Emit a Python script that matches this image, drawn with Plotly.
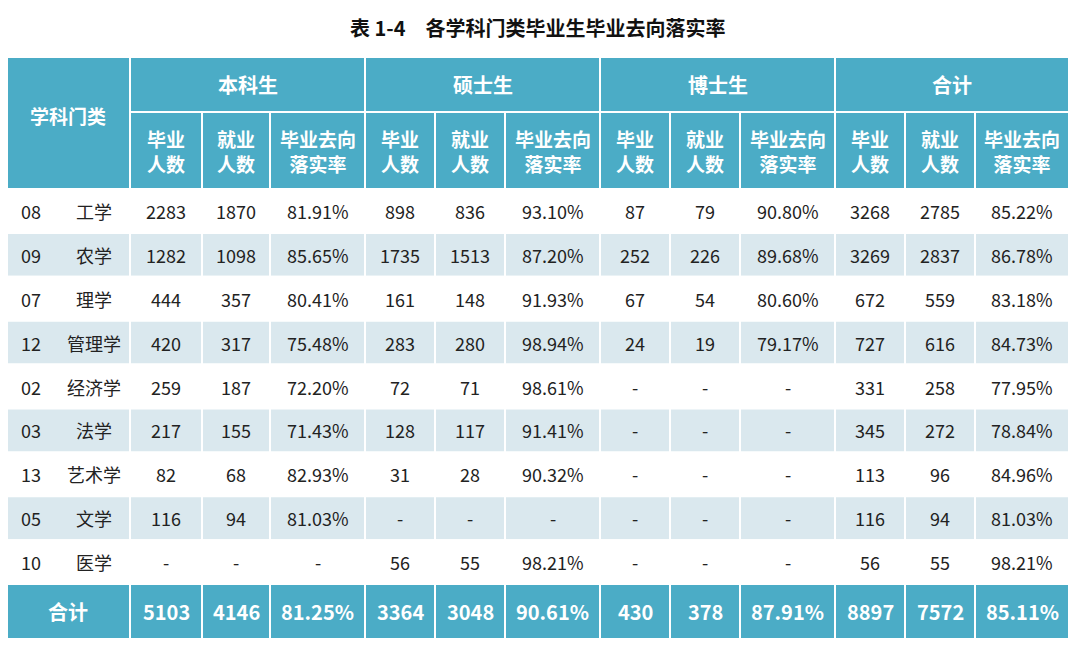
import plotly.graph_objects as go

title = "表 1-4　各学科门类毕业生毕业去向落实率"
groups = ["本科生", "硕士生", "博士生", "合计"]
sub_headers = ["毕业<br>人数", "就业<br>人数", "毕业去向<br>落实率"]

codes = ["08", "09", "07", "12", "02", "03", "13", "05", "10"]
names = ["工学", "农学", "理学", "管理学", "经济学", "法学", "艺术学", "文学", "医学"]
bachelor = [
    ["2283", "1870", "81.91%"], ["1282", "1098", "85.65%"], ["444", "357", "80.41%"],
    ["420", "317", "75.48%"], ["259", "187", "72.20%"], ["217", "155", "71.43%"],
    ["82", "68", "82.93%"], ["116", "94", "81.03%"], ["-", "-", "-"],
]
master = [
    ["898", "836", "93.10%"], ["1735", "1513", "87.20%"], ["161", "148", "91.93%"],
    ["283", "280", "98.94%"], ["72", "71", "98.61%"], ["128", "117", "91.41%"],
    ["31", "28", "90.32%"], ["-", "-", "-"], ["56", "55", "98.21%"],
]
doctor = [
    ["87", "79", "90.80%"], ["252", "226", "89.68%"], ["67", "54", "80.60%"],
    ["24", "19", "79.17%"], ["-", "-", "-"], ["-", "-", "-"],
    ["-", "-", "-"], ["-", "-", "-"], ["-", "-", "-"],
]
total = [
    ["3268", "2785", "85.22%"], ["3269", "2837", "86.78%"], ["672", "559", "83.18%"],
    ["727", "616", "84.73%"], ["331", "258", "77.95%"], ["345", "272", "78.84%"],
    ["113", "96", "84.96%"], ["116", "94", "81.03%"], ["56", "55", "98.21%"],
]
sum_row = ["5103", "4146", "81.25%", "3364", "3048", "90.61%",
           "430", "378", "87.91%", "8897", "7572", "85.11%"]

HEAD = "#4BACC6"
STRIPE = "#DAE8EE"
FONT = "Noto Sans CJK SC"

col_x = [8, 132, 204, 272, 367, 437, 507, 602, 672, 742, 837, 907, 977, 1071]
y_top, y_h1, y_h2 = 58, 113, 190
row_h = 43.9
y_sum = y_h2 + row_h * 9
y_bot = 640

fig = go.Figure()
shapes, ann = [], []


def cell(x0, x1, y0, y1, color):
    shapes.append(dict(type="rect", x0=x0, x1=x1, y0=y0, y1=y1, fillcolor=color,
                       line=dict(color="white", width=2), layer="below"))


def text(x, y, s, size=18, color="#222", bold=False):
    if bold:
        s = "<b>" + s + "</b>"
    ann.append(dict(x=x, y=y, text=s, showarrow=False, xanchor="center", yanchor="middle",
                    font=dict(family=FONT, size=size, color=color)))


# header
cell(col_x[0], col_x[1], y_top, y_h2, HEAD)
text((col_x[0] + col_x[1]) / 2, (y_top + y_h2) / 2 - 8, "学科门类", 19, "white", True)
for g, name in enumerate(groups):
    a, b = col_x[1 + 3 * g], col_x[4 + 3 * g]
    cell(a, b, y_top, y_h1, HEAD)
    text((a + b) / 2, (y_top + y_h1) / 2, name, 20, "white", True)
    for k in range(3):
        c0, c1 = col_x[1 + 3 * g + k], col_x[2 + 3 * g + k]
        cell(c0, c1, y_h1, y_h2, HEAD)
        text((c0 + c1) / 2, (y_h1 + y_h2) / 2, sub_headers[k], 19, "white", True)

# body
for i in range(len(codes)):
    y0 = y_h2 + i * row_h
    y1 = y0 + row_h
    color = "white" if i % 2 == 0 else STRIPE
    cell(col_x[0], col_x[1], y0, y1, color)
    ym = (y0 + y1) / 2
    text(33, ym, codes[i])
    text(96, ym, names[i])
    vals = bachelor[i] + master[i] + doctor[i] + total[i]
    for j, v in enumerate(vals):
        cell(col_x[1 + j], col_x[2 + j], y0, y1, color)
        text((col_x[1 + j] + col_x[2 + j]) / 2, ym, v)

# total row
cell(col_x[0], col_x[1], y_sum, y_bot, HEAD)
text((col_x[0] + col_x[1]) / 2, (y_sum + y_bot) / 2, "合计", 20, "white", True)
for j, v in enumerate(sum_row):
    cell(col_x[1 + j], col_x[2 + j], y_sum, y_bot, HEAD)
    text((col_x[1 + j] + col_x[2 + j]) / 2, (y_sum + y_bot) / 2, v, 20, "white", True)

text(540, 28, title, 20, "#111", True)

# page adds ~10px offset; compensate so pixel coords match the reference
fig.update_layout(
    width=1062, height=631, margin=dict(l=0, r=0, t=0, b=0),
    paper_bgcolor="white", plot_bgcolor="white",
    xaxis=dict(range=[10, 1072], visible=False, fixedrange=True),
    yaxis=dict(range=[640, 9], visible=False, fixedrange=True),
    shapes=shapes, annotations=ann, showlegend=False,
)
fig.write_html("out.html")
